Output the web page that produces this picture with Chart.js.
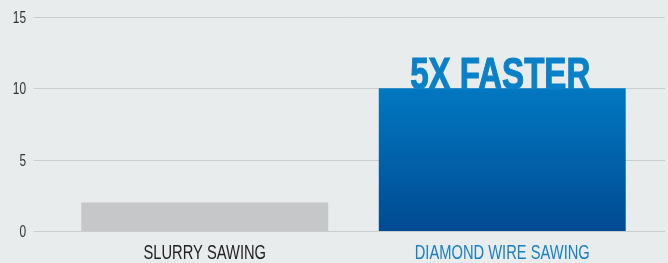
<!DOCTYPE html>
<html>
<head>
<meta charset="utf-8">
<script src="https://cdn.jsdelivr.net/npm/chart.js@4/dist/chart.umd.min.js"></script>
<style>
    html, body { margin: 0; padding: 0; background: #e8eced; overflow: hidden; }
    #wrap { width: 668px; height: 263px; }
</style>
</head>
<body>
<div id="wrap"><canvas id="c"></canvas></div>
<script>
// values
const categories = ['SLURRY SAWING', 'DIAMOND WIRE SAWING'];
const categoryColors = ['#222222', '#1a80c2'];
const sawingSpeed = [2, 10];
const yTicks = [0, 5, 10, 15];
const calloutText = '5X FASTER';

// No condensed Helvetica available, so Liberation Sans gets squeezed horizontally.
const FONT = '"Liberation Sans", Arial, sans-serif';
const GRID_COLOR = '#c9cdce';

function squeezedText(ctx, text, x, y, sx, align, stroke) {
    ctx.save();
    ctx.translate(x, y);
    ctx.scale(sx, 1);
    ctx.textAlign = align;
    ctx.textBaseline = 'alphabetic';
    ctx.fillText(text, 0, 0);
    if (stroke) ctx.strokeText(text, 0, 0);
    ctx.restore();
}

// grid lines run a bit past the plot area on both sides, like the original
const wideGrid = {
    id: 'wideGrid',
    beforeDatasetsDraw(chart) {
        const { ctx, chartArea, scales } = chart;
        ctx.save();
        ctx.strokeStyle = GRID_COLOR;
        ctx.lineWidth = 1;
        yTicks.forEach(v => {
            const y = Math.round(scales.y.getPixelForValue(v)) + 0.5;
            ctx.beginPath();
            ctx.moveTo(chartArea.left - 22, y);
            ctx.lineTo(chartArea.right + 14, y);
            ctx.stroke();
        });
        ctx.restore();
    }
};

// axis labels drawn by hand so they can be condensed
const axisLabels = {
    id: 'axisLabels',
    afterDraw(chart) {
        const { ctx, chartArea, scales } = chart;
        ctx.save();
        ctx.font = '17px ' + FONT;
        ctx.fillStyle = '#333333';
        yTicks.forEach(v => {
            squeezedText(ctx, String(v), chartArea.left - 30, scales.y.getPixelForValue(v) + 6, 0.7, 'right');
        });
        ctx.font = '21px ' + FONT;
        categories.forEach((c, i) => {
            ctx.fillStyle = categoryColors[i];
            squeezedText(ctx, c, scales.x.getPixelForValue(i), chartArea.bottom + 28, 0.7, 'center');
        });
        ctx.restore();
    }
};

// "5X FASTER" callout sitting on top of the blue bar
const callout = {
    id: 'callout',
    afterDatasetsDraw(chart) {
        const { ctx } = chart;
        const bar = chart.getDatasetMeta(0).data[1];
        if (!bar) return;
        ctx.save();
        ctx.font = 'bold 45px ' + FONT;
        const g = ctx.createLinearGradient(0, bar.y - 32, 0, bar.y);
        g.addColorStop(0, '#0a80c8');
        g.addColorStop(1, '#075892');
        ctx.fillStyle = g;
        ctx.strokeStyle = g;
        ctx.lineWidth = 1.2;
        squeezedText(ctx, calloutText, bar.x - 2, bar.y + 1, 0.735, 'center', true);
        ctx.restore();
    }
};

function barColor(context) {
    if (context.dataIndex === 0) return '#c6c7c8';
    const area = context.chart.chartArea;
    if (!area) return '#0066b0';
    const top = context.chart.scales.y.getPixelForValue(sawingSpeed[1]);
    const g = context.chart.ctx.createLinearGradient(0, top, 0, area.bottom);
    g.addColorStop(0, '#0178c1');
    g.addColorStop(1, '#004a92');
    return g;
}

new Chart(document.getElementById('c'), {
    type: 'bar',
    data: {
        labels: categories,
        datasets: [{
            data: sawingSpeed,
            backgroundColor: barColor,
            borderWidth: 0,
            categoryPercentage: 1,
            barPercentage: 0.83
        }]
    },
    options: {
        responsive: true,
        maintainAspectRatio: false,
        animation: false,
        layout: { padding: { top: 17, right: 17, left: 56, bottom: 32 } },
        plugins: { legend: { display: false }, tooltip: { enabled: false } },
        scales: {
            x: { display: false },
            y: { display: false, min: 0, max: 15 }
        }
    },
    plugins: [wideGrid, callout, axisLabels]
});
</script>
</body>
</html>
